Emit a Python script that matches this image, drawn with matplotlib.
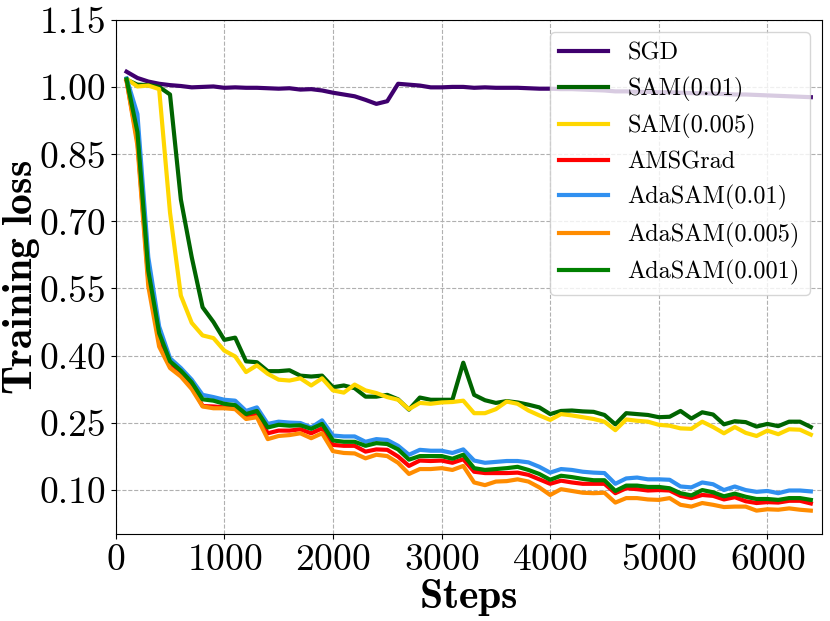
import matplotlib
matplotlib.use('Agg')
import matplotlib.pyplot as plt
from matplotlib.ticker import FormatStrFormatter

plt.rcParams['font.family'] = 'serif'
plt.rcParams['font.serif'] = ['cmr10']
plt.rcParams['mathtext.fontset'] = 'cm'
plt.rcParams['axes.formatter.use_mathtext'] = True

# training steps (every 100)
steps = list(range(100, 6401, 100))

sgd = [1.035, 1.021, 1.013, 1.008, 1.005, 1.003, 1.000, 1.001, 1.002, 0.999,
       1.000, 0.999, 0.999, 0.998, 0.997, 0.998, 0.995, 0.996, 0.993, 0.988,
       0.984, 0.980, 0.972, 0.963, 0.969, 1.008, 1.006, 1.004, 1.000, 1.000,
       1.001, 1.001, 0.999, 1.000, 0.999, 0.999, 0.999, 0.998, 0.997, 0.997,
       0.996, 0.996, 0.995, 0.994, 0.993, 0.991, 0.991, 0.990, 0.990, 0.989,
       0.989, 0.988, 0.987, 0.987, 0.986, 0.985, 0.984, 0.984, 0.983, 0.982,
       0.981, 0.980, 0.979, 0.978]

sam_001 = [1.017, 1.006, 1.005, 1.001, 0.984, 0.749, 0.620, 0.508, 0.475, 0.435,
           0.440, 0.387, 0.385, 0.365, 0.365, 0.367, 0.355, 0.353, 0.355, 0.329,
           0.333, 0.327, 0.308, 0.308, 0.312, 0.302, 0.279, 0.306, 0.301, 0.301,
           0.301, 0.384, 0.312, 0.300, 0.294, 0.298, 0.295, 0.290, 0.284, 0.269,
           0.276, 0.277, 0.275, 0.274, 0.267, 0.246, 0.271, 0.269, 0.267, 0.262,
           0.263, 0.276, 0.259, 0.273, 0.268, 0.246, 0.253, 0.251, 0.241, 0.247,
           0.242, 0.252, 0.252, 0.240]

sam_0005 = [1.019, 1.002, 1.004, 0.996, 0.720, 0.534, 0.473, 0.445, 0.439, 0.411,
            0.398, 0.363, 0.378, 0.359, 0.346, 0.344, 0.349, 0.333, 0.349, 0.322,
            0.317, 0.335, 0.322, 0.316, 0.307, 0.301, 0.280, 0.294, 0.292, 0.295,
            0.296, 0.299, 0.271, 0.271, 0.280, 0.297, 0.292, 0.277, 0.266, 0.256,
            0.269, 0.266, 0.262, 0.258, 0.252, 0.233, 0.257, 0.254, 0.252, 0.245,
            0.243, 0.237, 0.236, 0.252, 0.240, 0.226, 0.240, 0.227, 0.220, 0.232,
            0.224, 0.235, 0.234, 0.223]

amsgrad = [1.015, 0.880, 0.570, 0.430, 0.383, 0.364, 0.334, 0.287, 0.286, 0.284,
           0.284, 0.263, 0.271, 0.226, 0.232, 0.232, 0.235, 0.226, 0.237, 0.200,
           0.198, 0.198, 0.185, 0.190, 0.189, 0.174, 0.153, 0.165, 0.164, 0.165,
           0.160, 0.168, 0.140, 0.137, 0.137, 0.137, 0.138, 0.133, 0.123, 0.113,
           0.120, 0.116, 0.113, 0.113, 0.113, 0.092, 0.103, 0.101, 0.098, 0.099,
           0.098, 0.086, 0.081, 0.088, 0.086, 0.078, 0.083, 0.074, 0.070, 0.072,
           0.071, 0.075, 0.075, 0.069]

adasam_001 = [1.020, 0.940, 0.620, 0.465, 0.394, 0.372, 0.346, 0.312, 0.307, 0.301,
              0.299, 0.276, 0.284, 0.247, 0.252, 0.250, 0.249, 0.239, 0.255, 0.221,
              0.219, 0.219, 0.207, 0.213, 0.211, 0.198, 0.178, 0.189, 0.187, 0.187,
              0.182, 0.190, 0.165, 0.160, 0.162, 0.164, 0.164, 0.161, 0.151, 0.138,
              0.146, 0.144, 0.140, 0.138, 0.137, 0.113, 0.125, 0.127, 0.123, 0.123,
              0.122, 0.107, 0.105, 0.116, 0.112, 0.099, 0.107, 0.099, 0.095, 0.097,
              0.092, 0.098, 0.098, 0.096]

adasam_0005 = [1.015, 0.870, 0.555, 0.420, 0.372, 0.353, 0.325, 0.286, 0.282, 0.282,
               0.280, 0.258, 0.262, 0.213, 0.220, 0.222, 0.226, 0.215, 0.226, 0.186,
               0.182, 0.181, 0.170, 0.178, 0.175, 0.160, 0.135, 0.146, 0.146, 0.148,
               0.144, 0.153, 0.116, 0.110, 0.118, 0.119, 0.123, 0.118, 0.105, 0.088,
               0.101, 0.097, 0.093, 0.092, 0.093, 0.071, 0.081, 0.081, 0.078, 0.077,
               0.081, 0.066, 0.062, 0.070, 0.066, 0.061, 0.062, 0.062, 0.053, 0.056,
               0.055, 0.058, 0.055, 0.053]

adasam_0001 = [1.018, 0.900, 0.590, 0.450, 0.387, 0.366, 0.340, 0.302, 0.299, 0.292,
               0.289, 0.269, 0.276, 0.239, 0.245, 0.243, 0.244, 0.236, 0.247, 0.210,
               0.207, 0.207, 0.198, 0.204, 0.202, 0.190, 0.167, 0.175, 0.175, 0.175,
               0.169, 0.178, 0.148, 0.144, 0.146, 0.148, 0.151, 0.144, 0.135, 0.122,
               0.131, 0.128, 0.124, 0.121, 0.121, 0.097, 0.109, 0.109, 0.106, 0.106,
               0.103, 0.092, 0.087, 0.099, 0.094, 0.085, 0.091, 0.084, 0.079, 0.079,
               0.077, 0.081, 0.081, 0.077]

series = [
    ('SGD', sgd, '#3f006e'),
    ('SAM(0.01)', sam_001, '#006400'),
    ('SAM(0.005)', sam_0005, '#ffd700'),
    ('AMSGrad', amsgrad, '#ff0000'),
    ('AdaSAM(0.01)', adasam_001, '#3090f0'),
    ('AdaSAM(0.005)', adasam_0005, '#ff8c00'),
    ('AdaSAM(0.001)', adasam_0001, '#008000'),
]

fig = plt.figure(figsize=(8.3, 6.21), dpi=100)
ax = fig.add_axes([0.1394, 0.1396, 0.8506, 0.8277])

for name, vals, col in series:
    ax.plot(steps, vals, color=col, lw=3, label=name)

ax.set_xlim(0, 6500)
ax.set_ylim(0.0, 1.15)
ax.set_xticks([0, 1000, 2000, 3000, 4000, 5000, 6000])
ax.set_yticks([0.10, 0.25, 0.40, 0.55, 0.70, 0.85, 1.00, 1.15])
ax.yaxis.set_major_formatter(FormatStrFormatter('%.2f'))
ax.tick_params(labelsize=27)
ax.grid(True, ls='--', color='#b0b0b0', lw=0.8)

ax.set_xlabel(r'$\mathbf{Steps}$', fontsize=30, labelpad=0)
ax.set_ylabel(r'$\mathbf{Training\ loss}$', fontsize=30)
ax.yaxis.set_label_coords(-0.104, 0.5)

ax.legend(loc='upper right', fontsize=17.5)

fig.savefig('out.png', dpi=100)
